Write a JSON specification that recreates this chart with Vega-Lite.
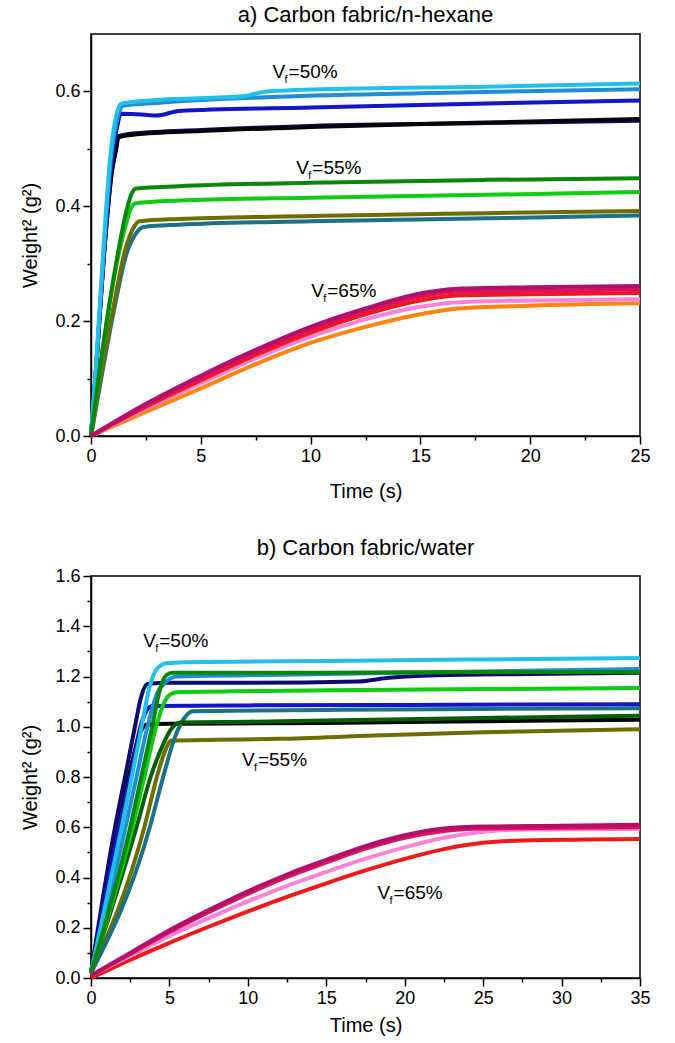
{
  "$schema": "https://vega.github.io/schema/vega-lite/v6.json",
  "padding": {"left": 20, "top": 3, "right": 12, "bottom": 5},
  "background": "white",
  "spacing": 34,
  "config": {
    "font": "Liberation Sans",
    "view": {"stroke": "black", "strokeWidth": 1.5},
    "axis": {
      "grid": false, "domainColor": "black", "domainWidth": 1.5, "tickColor": "black", "tickWidth": 1.5,
      "labelColor": "black", "labelFontSize": 18, "titleColor": "black", "titleFontSize": 20, "titleFontWeight": "normal",
      "labelPadding": 3, "labelOverlap": false, "labelFlush": false
    },
    "title": {"fontSize": 22, "fontWeight": "normal", "color": "black", "offset": 7}
  },
  "resolve": {"scale": {"x": "independent", "y": "independent"}},
  "datasets": {
    "hexane": [
      {"run":"navy","t":0,"w":0},{"run":"navy","t":0.2,"w":0.1},{"run":"navy","t":0.6,"w":0.32},{"run":"navy","t":0.95,"w":0.46},{"run":"navy","t":1.15,"w":0.505},{"run":"navy","t":1.25,"w":0.522},{"run":"navy","t":2,"w":0.527},{"run":"navy","t":5,"w":0.533},{"run":"navy","t":10,"w":0.54},{"run":"navy","t":18,"w":0.545},{"run":"navy","t":25,"w":0.549},
      {"run":"black","t":0,"w":0},{"run":"black","t":0.2,"w":0.1},{"run":"black","t":0.6,"w":0.32},{"run":"black","t":0.95,"w":0.46},{"run":"black","t":1.15,"w":0.5},{"run":"black","t":1.25,"w":0.52},{"run":"black","t":2,"w":0.525},{"run":"black","t":5,"w":0.531},{"run":"black","t":10,"w":0.538},{"run":"black","t":18,"w":0.546},{"run":"black","t":25,"w":0.552},
      {"run":"blue","t":0,"w":0},{"run":"blue","t":0.2,"w":0.1},{"run":"blue","t":0.6,"w":0.32},{"run":"blue","t":0.95,"w":0.48},{"run":"blue","t":1.2,"w":0.54},{"run":"blue","t":1.35,"w":0.561},{"run":"blue","t":2.3,"w":0.56},{"run":"blue","t":3,"w":0.558},{"run":"blue","t":4,"w":0.566},{"run":"blue","t":10,"w":0.572},{"run":"blue","t":18,"w":0.579},{"run":"blue","t":25,"w":0.584},
      {"run":"azure","t":0,"w":0},{"run":"azure","t":0.2,"w":0.1},{"run":"azure","t":0.58,"w":0.32},{"run":"azure","t":0.9,"w":0.48},{"run":"azure","t":1.25,"w":0.56},{"run":"azure","t":1.45,"w":0.575},{"run":"azure","t":3,"w":0.58},{"run":"azure","t":8,"w":0.59},{"run":"azure","t":15,"w":0.597},{"run":"azure","t":25,"w":0.604},
      {"run":"cyan","t":0,"w":0},{"run":"cyan","t":0.18,"w":0.097},{"run":"cyan","t":0.56,"w":0.323},{"run":"cyan","t":0.86,"w":0.48},{"run":"cyan","t":1.2,"w":0.565},{"run":"cyan","t":1.4,"w":0.579},{"run":"cyan","t":3,"w":0.585},{"run":"cyan","t":7,"w":0.592},{"run":"cyan","t":8,"w":0.6},{"run":"cyan","t":12,"w":0.605},{"run":"cyan","t":18,"w":0.608},{"run":"cyan","t":25,"w":0.614},
      {"run":"teal","t":0,"w":0},{"run":"teal","t":0.45,"w":0.097},{"run":"teal","t":1.05,"w":0.22},{"run":"teal","t":1.6,"w":0.315},{"run":"teal","t":2.0,"w":0.35},{"run":"teal","t":2.4,"w":0.364},{"run":"teal","t":4,"w":0.368},{"run":"teal","t":10,"w":0.374},{"run":"teal","t":18,"w":0.379},{"run":"teal","t":25,"w":0.384},
      {"run":"olive","t":0,"w":0},{"run":"olive","t":0.41,"w":0.097},{"run":"olive","t":1.0,"w":0.22},{"run":"olive","t":1.55,"w":0.323},{"run":"olive","t":1.9,"w":0.36},{"run":"olive","t":2.2,"w":0.374},{"run":"olive","t":4,"w":0.378},{"run":"olive","t":10,"w":0.383},{"run":"olive","t":18,"w":0.388},{"run":"olive","t":25,"w":0.392},
      {"run":"green","t":0,"w":0},{"run":"green","t":0.33,"w":0.095},{"run":"green","t":1.17,"w":0.3},{"run":"green","t":1.6,"w":0.37},{"run":"green","t":1.8,"w":0.395},{"run":"green","t":2.0,"w":0.405},{"run":"green","t":4,"w":0.41},{"run":"green","t":10,"w":0.415},{"run":"green","t":18,"w":0.42},{"run":"green","t":25,"w":0.425},
      {"run":"dkgreen","t":0,"w":0},{"run":"dkgreen","t":0.33,"w":0.097},{"run":"dkgreen","t":1.17,"w":0.306},{"run":"dkgreen","t":1.62,"w":0.393},{"run":"dkgreen","t":1.85,"w":0.422},{"run":"dkgreen","t":2.05,"w":0.431},{"run":"dkgreen","t":4,"w":0.435},{"run":"dkgreen","t":10,"w":0.441},{"run":"dkgreen","t":18,"w":0.446},{"run":"dkgreen","t":25,"w":0.449},
      {"run":"orange","t":0,"w":0},{"run":"orange","t":2.5,"w":0.042},{"run":"orange","t":5,"w":0.083},{"run":"orange","t":7.5,"w":0.125},{"run":"orange","t":10,"w":0.162},{"run":"orange","t":12.5,"w":0.19},{"run":"orange","t":15,"w":0.212},{"run":"orange","t":16.7,"w":0.222},{"run":"orange","t":20,"w":0.227},{"run":"orange","t":25,"w":0.231},
      {"run":"pink","t":0,"w":0},{"run":"pink","t":2.5,"w":0.048},{"run":"pink","t":5,"w":0.092},{"run":"pink","t":7.5,"w":0.135},{"run":"pink","t":10,"w":0.173},{"run":"pink","t":12.5,"w":0.203},{"run":"pink","t":15,"w":0.225},{"run":"pink","t":16.8,"w":0.233},{"run":"pink","t":20,"w":0.236},{"run":"pink","t":25,"w":0.238},
      {"run":"red","t":0,"w":0},{"run":"red","t":2.5,"w":0.051},{"run":"red","t":5,"w":0.097},{"run":"red","t":7.5,"w":0.141},{"run":"red","t":10,"w":0.18},{"run":"red","t":12.5,"w":0.212},{"run":"red","t":15,"w":0.236},{"run":"red","t":16.8,"w":0.245},{"run":"red","t":20,"w":0.247},{"run":"red","t":25,"w":0.249},
      {"run":"crimson","t":0,"w":0},{"run":"crimson","t":2.5,"w":0.053},{"run":"crimson","t":5,"w":0.101},{"run":"crimson","t":7.5,"w":0.146},{"run":"crimson","t":10,"w":0.186},{"run":"crimson","t":12.5,"w":0.218},{"run":"crimson","t":15,"w":0.243},{"run":"crimson","t":16.6,"w":0.251},{"run":"crimson","t":20,"w":0.253},{"run":"crimson","t":25,"w":0.255},
      {"run":"magenta","t":0,"w":0},{"run":"magenta","t":2.5,"w":0.056},{"run":"magenta","t":5,"w":0.105},{"run":"magenta","t":7.5,"w":0.15},{"run":"magenta","t":10,"w":0.19},{"run":"magenta","t":12.5,"w":0.222},{"run":"magenta","t":15,"w":0.248},{"run":"magenta","t":16.5,"w":0.256},{"run":"magenta","t":20,"w":0.259},{"run":"magenta","t":25,"w":0.261}
    ],
    "water": [
      {"run":"black","t":0,"w":0.02},{"run":"black","t":1.7,"w":0.6},{"run":"black","t":2.4,"w":0.8},{"run":"black","t":3.1,"w":0.97},{"run":"black","t":3.5,"w":1.008},{"run":"black","t":5,"w":1.012},{"run":"black","t":15,"w":1.015},{"run":"black","t":25,"w":1.022},{"run":"black","t":35,"w":1.028},
      {"run":"navy","t":0,"w":0.02},{"run":"navy","t":1.53,"w":0.6},{"run":"navy","t":2.17,"w":0.8},{"run":"navy","t":2.8,"w":1.0},{"run":"navy","t":3.2,"w":1.12},{"run":"navy","t":3.6,"w":1.17},{"run":"navy","t":5,"w":1.175},{"run":"navy","t":10,"w":1.175},{"run":"navy","t":17,"w":1.18},{"run":"navy","t":19,"w":1.195},{"run":"navy","t":22,"w":1.205},{"run":"navy","t":28,"w":1.21},{"run":"navy","t":35,"w":1.215},
      {"run":"blue","t":0,"w":0.02},{"run":"blue","t":1.8,"w":0.6},{"run":"blue","t":2.5,"w":0.8},{"run":"blue","t":3.15,"w":1.0},{"run":"blue","t":3.5,"w":1.06},{"run":"blue","t":3.9,"w":1.083},{"run":"blue","t":10,"w":1.085},{"run":"blue","t":20,"w":1.087},{"run":"blue","t":35,"w":1.09},
      {"run":"azure","t":0,"w":0.02},{"run":"azure","t":2.2,"w":0.6},{"run":"azure","t":2.9,"w":0.8},{"run":"azure","t":3.6,"w":1.0},{"run":"azure","t":4.2,"w":1.13},{"run":"azure","t":4.8,"w":1.18},{"run":"azure","t":5.5,"w":1.2},{"run":"azure","t":10,"w":1.205},{"run":"azure","t":20,"w":1.215},{"run":"azure","t":35,"w":1.23},
      {"run":"cyan","t":0,"w":0.02},{"run":"cyan","t":1.96,"w":0.6},{"run":"cyan","t":2.6,"w":0.8},{"run":"cyan","t":3.23,"w":1.0},{"run":"cyan","t":3.7,"w":1.15},{"run":"cyan","t":4.2,"w":1.23},{"run":"cyan","t":4.8,"w":1.253},{"run":"cyan","t":6,"w":1.257},{"run":"cyan","t":15,"w":1.262},{"run":"cyan","t":25,"w":1.268},{"run":"cyan","t":35,"w":1.274},
      {"run":"olive","t":0,"w":0.02},{"run":"olive","t":3.4,"w":0.6},{"run":"olive","t":4.2,"w":0.8},{"run":"olive","t":4.7,"w":0.9},{"run":"olive","t":5.1,"w":0.944},{"run":"olive","t":8,"w":0.948},{"run":"olive","t":12,"w":0.952},{"run":"olive","t":18,"w":0.965},{"run":"olive","t":25,"w":0.978},{"run":"olive","t":35,"w":0.99},
      {"run":"teal","t":0,"w":0.02},{"run":"teal","t":3.75,"w":0.6},{"run":"teal","t":4.6,"w":0.8},{"run":"teal","t":5.3,"w":0.95},{"run":"teal","t":5.9,"w":1.03},{"run":"teal","t":6.5,"w":1.062},{"run":"teal","t":15,"w":1.067},{"run":"teal","t":25,"w":1.071},{"run":"teal","t":35,"w":1.074},
      {"run":"dkgreen2","t":0,"w":0.02},{"run":"dkgreen2","t":2.9,"w":0.6},{"run":"dkgreen2","t":3.8,"w":0.8},{"run":"dkgreen2","t":4.6,"w":0.93},{"run":"dkgreen2","t":5.1,"w":0.99},{"run":"dkgreen2","t":5.7,"w":1.017},{"run":"dkgreen2","t":10,"w":1.02},{"run":"dkgreen2","t":20,"w":1.03},{"run":"dkgreen2","t":35,"w":1.044},
      {"run":"green","t":0,"w":0.02},{"run":"green","t":2.65,"w":0.6},{"run":"green","t":3.4,"w":0.8},{"run":"green","t":4.15,"w":1.0},{"run":"green","t":4.7,"w":1.1},{"run":"green","t":5.1,"w":1.13},{"run":"green","t":5.6,"w":1.138},{"run":"green","t":15,"w":1.145},{"run":"green","t":25,"w":1.15},{"run":"green","t":35,"w":1.154},
      {"run":"dkgreen","t":0,"w":0.02},{"run":"dkgreen","t":2.5,"w":0.6},{"run":"dkgreen","t":3.2,"w":0.8},{"run":"dkgreen","t":3.9,"w":1.0},{"run":"dkgreen","t":4.4,"w":1.15},{"run":"dkgreen","t":4.8,"w":1.205},{"run":"dkgreen","t":5.2,"w":1.215},{"run":"dkgreen","t":15,"w":1.215},{"run":"dkgreen","t":25,"w":1.218},{"run":"dkgreen","t":35,"w":1.218},
      {"run":"red","t":0,"w":0.0},{"run":"red","t":2.5,"w":0.072},{"run":"red","t":5,"w":0.14},{"run":"red","t":7.5,"w":0.204},{"run":"red","t":10,"w":0.265},{"run":"red","t":12.5,"w":0.323},{"run":"red","t":15,"w":0.377},{"run":"red","t":17.5,"w":0.428},{"run":"red","t":20,"w":0.474},{"run":"red","t":22.5,"w":0.513},{"run":"red","t":25,"w":0.538},{"run":"red","t":27.5,"w":0.547},{"run":"red","t":35,"w":0.553},
      {"run":"pink","t":0,"w":0.01},{"run":"pink","t":2.5,"w":0.088},{"run":"pink","t":5,"w":0.167},{"run":"pink","t":7.5,"w":0.238},{"run":"pink","t":10,"w":0.305},{"run":"pink","t":12.5,"w":0.367},{"run":"pink","t":15,"w":0.422},{"run":"pink","t":17.5,"w":0.475},{"run":"pink","t":20,"w":0.52},{"run":"pink","t":22.5,"w":0.558},{"run":"pink","t":25,"w":0.582},{"run":"pink","t":27,"w":0.59},{"run":"pink","t":35,"w":0.594},
      {"run":"crimson","t":0,"w":0.01},{"run":"crimson","t":2.5,"w":0.096},{"run":"crimson","t":5,"w":0.183},{"run":"crimson","t":7.5,"w":0.262},{"run":"crimson","t":10,"w":0.335},{"run":"crimson","t":12.5,"w":0.402},{"run":"crimson","t":15,"w":0.46},{"run":"crimson","t":17.5,"w":0.515},{"run":"crimson","t":20,"w":0.558},{"run":"crimson","t":22.5,"w":0.585},{"run":"crimson","t":25,"w":0.595},{"run":"crimson","t":30,"w":0.598},{"run":"crimson","t":35,"w":0.6},
      {"run":"magenta","t":0,"w":0.01},{"run":"magenta","t":2.5,"w":0.1},{"run":"magenta","t":5,"w":0.19},{"run":"magenta","t":7.5,"w":0.27},{"run":"magenta","t":10,"w":0.345},{"run":"magenta","t":12.5,"w":0.412},{"run":"magenta","t":15,"w":0.47},{"run":"magenta","t":17.5,"w":0.525},{"run":"magenta","t":20,"w":0.568},{"run":"magenta","t":22.5,"w":0.595},{"run":"magenta","t":25,"w":0.603},{"run":"magenta","t":30,"w":0.606},{"run":"magenta","t":35,"w":0.61}
    ],
    "labA": [
      {"t":8.27,"w":0.623,"pct":"=50%"},{"t":9.35,"w":0.457,"pct":"=55%"},{"t":10.03,"w":0.242,"pct":"=65%"}
    ],
    "labB": [
      {"t":3.33,"w":1.316,"pct":"=50%"},{"t":9.62,"w":0.845,"pct":"=55%"},{"t":18.27,"w":0.313,"pct":"=65%"}
    ]
  },
  "vconcat": [
    {
      "title": "a) Carbon fabric/n-hexane",
      "width": 549, "height": 402,
      "encoding": {
        "x": {"field": "t", "type": "quantitative", "scale": {"domain": [0, 25], "nice": false},
          "axis": {"title": "Time (s)", "titlePadding": 16, "values": [0,2.5,5,7.5,10,12.5,15,17.5,20,22.5,25],
            "labelExpr": "datum.value % 5 === 0 ? format(datum.value, 'd') : ''",
            "tickSize": {"condition": {"test": "datum.value % 5 === 0", "value": 8}, "value": 4}}},
        "y": {"field": "w", "type": "quantitative", "scale": {"domain": [0, 0.7], "nice": false},
          "axis": {"title": "Weight² (g²)", "titlePadding": 14, "values": [0,0.1,0.2,0.3,0.4,0.5,0.6],
            "labelExpr": "round(datum.value*10) % 2 === 0 ? format(datum.value, '.1f') : ''",
            "tickSize": {"condition": {"test": "round(datum.value*10) % 2 === 0", "value": 8}, "value": 4}}}
      },
      "layer": [
        {"data": {"name": "hexane"},
         "mark": {"type": "line", "strokeWidth": 4, "interpolate": "monotone", "strokeJoin": "round"},
         "encoding": {"color": {"field": "run", "type": "nominal", "legend": null,
           "scale": {"domain": ["navy","black","blue","azure","cyan","teal","olive","green","dkgreen","dkgreen2","orange","pink","red","crimson","magenta"],
                     "range": ["#0C0C6E","#050505","#1414C8","#1E8CD6","#22C0E8","#1B7185","#6E6E00","#10CC10","#0A860A","#065E06","#FF8410","#FF82D6","#F01818","#E0105E","#B0106C"]}}}},
        {"data": {"name": "labA"}, "mark": {"type": "text", "text": "V", "align": "left", "baseline": "alphabetic", "fontSize": 19}},
        {"data": {"name": "labA"}, "mark": {"type": "text", "text": "f", "align": "left", "baseline": "alphabetic", "fontSize": 11, "dx": 12, "dy": 5}},
        {"data": {"name": "labA"}, "mark": {"type": "text", "align": "left", "baseline": "alphabetic", "fontSize": 19, "dx": 16}, "encoding": {"text": {"field": "pct"}}}
      ]
    },
    {
      "title": "b) Carbon fabric/water",
      "width": 549, "height": 402,
      "encoding": {
        "x": {"field": "t", "type": "quantitative", "scale": {"domain": [0, 35], "nice": false},
          "axis": {"title": "Time (s)", "titlePadding": 8, "values": [0,2.5,5,7.5,10,12.5,15,17.5,20,22.5,25,27.5,30,32.5,35],
            "labelExpr": "datum.value % 5 === 0 ? format(datum.value, 'd') : ''",
            "tickSize": {"condition": {"test": "datum.value % 5 === 0", "value": 8}, "value": 4}}},
        "y": {"field": "w", "type": "quantitative", "scale": {"domain": [0, 1.6], "nice": false},
          "axis": {"title": "Weight² (g²)", "titlePadding": 14, "values": [0,0.1,0.2,0.3,0.4,0.5,0.6,0.7,0.8,0.9,1.0,1.1,1.2,1.3,1.4,1.5,1.6],
            "labelExpr": "round(datum.value*10) % 2 === 0 ? format(datum.value, '.1f') : ''",
            "tickSize": {"condition": {"test": "round(datum.value*10) % 2 === 0", "value": 8}, "value": 4}}}
      },
      "layer": [
        {"data": {"name": "water"},
         "mark": {"type": "line", "strokeWidth": 4, "interpolate": "monotone", "strokeJoin": "round"},
         "encoding": {"color": {"field": "run", "type": "nominal", "legend": null,
           "scale": {"domain": ["navy","black","blue","azure","cyan","teal","olive","green","dkgreen","dkgreen2","orange","pink","red","crimson","magenta"],
                     "range": ["#0C0C6E","#050505","#1414C8","#1E8CD6","#22C0E8","#1B7185","#6E6E00","#10CC10","#0A860A","#065E06","#FF8410","#FF82D6","#F01818","#E0105E","#B0106C"]}}}},
        {"data": {"name": "labB"}, "mark": {"type": "text", "text": "V", "align": "left", "baseline": "alphabetic", "fontSize": 19}},
        {"data": {"name": "labB"}, "mark": {"type": "text", "text": "f", "align": "left", "baseline": "alphabetic", "fontSize": 11, "dx": 12, "dy": 5}},
        {"data": {"name": "labB"}, "mark": {"type": "text", "align": "left", "baseline": "alphabetic", "fontSize": 19, "dx": 16}, "encoding": {"text": {"field": "pct"}}}
      ]
    }
  ]
}
